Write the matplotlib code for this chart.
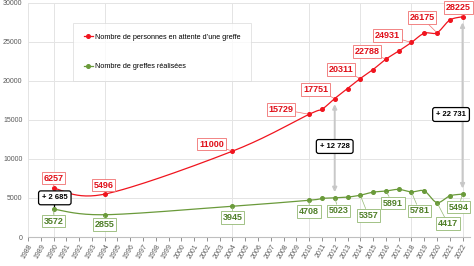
import numpy as np
import matplotlib
matplotlib.use("Agg")
import matplotlib.pyplot as plt

plt.rcParams['font.family'] = ['Liberation Sans', 'DejaVu Sans']

# data
years = [1990, 1994, 2004, 2010, 2011, 2012, 2013, 2014, 2015, 2016, 2017, 2018, 2019, 2020, 2021, 2022]
attente = [6257, 5496, 11000, 15729, 16371, 17751, 19024, 20311, 21464, 22788, 23828, 24931, 26116, 26175, 27800, 28225]
greffes = [3572, 2855, 3945, 4708, 4945, 5023, 5115, 5357, 5746, 5891, 6105, 5781, 5901, 4417, 5273, 5494]

labelled_years = [1990, 1994, 2004, 2010, 2012, 2014, 2016, 2018, 2020, 2022]
ecart_years = [1990, 2012, 2022]
ecart_labels = ["+ 2 685", "+ 12 728", "+ 22 731"]
vgrid_years = [1990, 1994, 2004, 2010, 2014, 2018, 2022]

red = '#F0141E'
red_txt = '#E0101A'
green = '#6A9A3A'
green_txt = '#4F7F28'

fig = plt.figure(figsize=(4.74, 2.66), dpi=100)
ax = fig.add_axes([0.059, 0.109, 0.933, 0.88])
ax.set_xlim(1988, 2022.6)
ax.set_ylim(0, 30000)

# pixel scale used for excel-like smoothing
sx = 442 / 34.6
sy = 233 / 30000


def smooth(xs, ys, n=30):
    px = np.array(xs, float) * sx
    py = np.array(ys, float) * sy
    pts = np.column_stack([px, py])
    out = []
    for i in range(len(pts) - 1):
        p0 = pts[i - 1] if i > 0 else pts[i]
        p1 = pts[i]
        p2 = pts[i + 1]
        p3 = pts[i + 2] if i + 2 < len(pts) else pts[i + 1]
        c1 = p1 + (p2 - p0) / 6
        c2 = p2 - (p3 - p1) / 6
        t = np.linspace(0, 1, n)[:, None]
        seg = (1 - t) ** 3 * p1 + 3 * (1 - t) ** 2 * t * c1 + 3 * (1 - t) * t ** 2 * c2 + t ** 3 * p2
        out.append(seg)
    c = np.vstack(out)
    return c[:, 0] / sx, c[:, 1] / sy


for v in range(5000, 30001, 5000):
    ax.axhline(v, color='#E4E4E4', lw=0.7, zorder=0)
for yv in vgrid_years:
    ax.axvline(yv, color='#E4E4E4', lw=0.7, zorder=0)

cx, cy = smooth(years, attente)
ax.plot(cx, cy, color=red, lw=0.9, zorder=3)
ax.plot(years, attente, 'o', color=red, ms=2.6, zorder=4)
gx, gy = smooth(years, greffes)
ax.plot(gx, gy, color=green, lw=0.9, zorder=3)
ax.plot(years, greffes, 'o', color=green, ms=2.6, zorder=4)

# legend proxies
ax.plot([], [], '-o', color=red, lw=0.9, ms=2.6, label="Nombre de personnes en attente d\u2019une greffe")
ax.plot([], [], '-o', color=green, lw=0.9, ms=2.6, label="Nombre de greffes réalisées")
h, l = ax.get_legend_handles_labels()
leg = ax.legend(h[-2:], l[-2:], loc='upper left', bbox_to_anchor=(0.102, 0.914), fontsize=5.2,
                frameon=True, fancybox=False, edgecolor='#D9D9D9', labelspacing=3.1,
                handlelength=1.3, handletextpad=0.3, borderpad=1.45, borderaxespad=0)
leg.get_frame().set_linewidth(0.6)

# value labels (offsets in pixels)
red_off = {1990: (0, 10), 1994: (-1, 9), 2004: (-21, 7), 2010: (-28, 5), 2012: (-19, 9),
           2014: (-19, 9), 2016: (-19, 8), 2018: (-24, 7), 2020: (-15, 15), 2022: (-4, 9)}
green_off = {1990: (0, -12), 1994: (0, -10), 2004: (0, -11), 2010: (0, -11), 2012: (4, -13),
             2014: (8, -20), 2016: (7, -12), 2018: (8, -19), 2020: (11, -21), 2022: (-4, -13)}

for yr in labelled_years:
    i = years.index(yr)
    ax.annotate(str(attente[i]), xy=(yr, attente[i]), xytext=red_off[yr], textcoords='offset pixels',
                ha='center', va='center', fontsize=6.5, fontweight='bold', color=red_txt, zorder=6,
                bbox=dict(boxstyle='square,pad=0.2', fc='white', ec='#F07070', lw=0.6),
                arrowprops=dict(arrowstyle='-', color='#F07070', lw=0.5, shrinkA=0, shrinkB=1))
    ax.annotate(str(greffes[i]), xy=(yr, greffes[i]), xytext=green_off[yr], textcoords='offset pixels',
                ha='center', va='center', fontsize=6.5, fontweight='bold', color=green_txt, zorder=6,
                bbox=dict(boxstyle='square,pad=0.2', fc='white', ec='#93B872', lw=0.6),
                arrowprops=dict(arrowstyle='-', color='#93B872', lw=0.5, shrinkA=0, shrinkB=1))

# ecarts
ecart_pos = [(1990.1, 5020), (2012, 11600), (2021.1, 15700)]
for k, yr in enumerate(ecart_years):
    i = years.index(yr)
    if yr == 1990:
        ax.plot([yr, yr], [greffes[i], attente[i]], color='black', lw=0.9, zorder=2)
    else:
        ax.annotate('', xy=(yr, attente[i]), xytext=(yr, greffes[i]),
                    arrowprops=dict(arrowstyle='<|-|>,head_length=0.25,head_width=0.12',
                                    fc='black', ec='#C8C8C8', lw=1.4, shrinkA=4, shrinkB=4), zorder=2)
    ax.text(ecart_pos[k][0], ecart_pos[k][1], ecart_labels[k], ha='center', va='center', fontsize=5.5,
            fontweight='bold', color='black', zorder=7,
            bbox=dict(boxstyle='round,pad=0.45,rounding_size=0.3', fc='white', ec='black', lw=0.9))

ax.set_yticks(range(0, 30001, 5000))
ax.set_xticks(range(1988, 2023))
ax.set_xticklabels([str(y) for y in range(1988, 2023)], rotation=60, ha='right', rotation_mode='anchor')
ax.tick_params(axis='x', labelsize=5, colors='#7F7F7F', labelcolor='#595959', length=3, width=0.6, pad=1)
ax.tick_params(axis='y', labelsize=5, labelcolor='#595959', length=0, pad=4)
for s in ['top', 'right']:
    ax.spines[s].set_visible(False)
ax.spines['bottom'].set_color('#BFBFBF')
ax.spines['left'].set_color('#E4E4E4')
ax.spines['left'].set_linewidth(0.7)

fig.savefig('out.png', dpi=100)
